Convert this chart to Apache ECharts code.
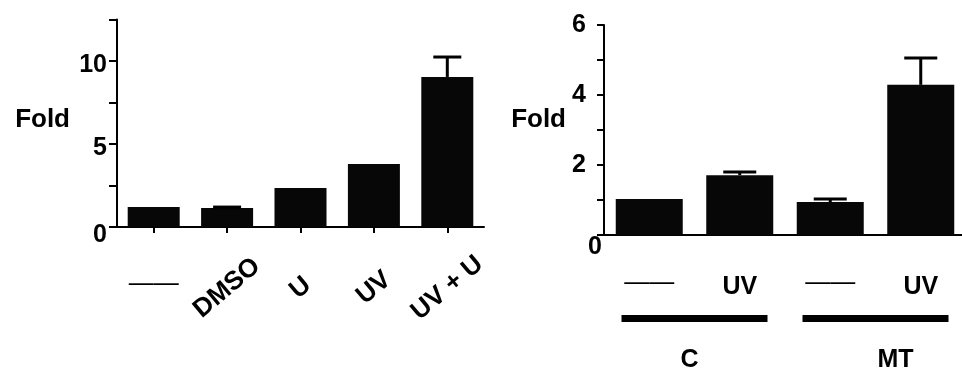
<!DOCTYPE html>
<html>
<head>
<meta charset="utf-8">
<script src="https://cdn.jsdelivr.net/npm/echarts@6/dist/echarts.min.js"></script>
<style>
  html, body { margin: 0; padding: 0; background: #ffffff; }
  #chart { width: 962px; height: 371px; }
</style>
</head>
<body>
<div id="chart"></div>
<script>
// Left panel: fold induction per treatment
const leftCategories = ['—', 'DMSO', 'U', 'UV', 'UV + U'];
const leftFold = [1.2, 1.14, 2.35, 3.8, 9.04];
const leftErrTop = [null, 1.2, null, null, 10.24];
const leftTickLabels = [0, 5, 10];

// Right panel: control (C) and mutant (MT), untreated vs UV
const rightCategories = ['—', 'UV', '—', 'UV'];
const rightFold = [1.03, 1.71, 0.94, 4.29];
const rightErrTop = [null, 1.8, 1.03, 5.06];
const rightGroups = ['C', 'MT'];
const rightTickLabels = [2, 4, 6];

const FONT = '"Liberation Sans", Arial, Helvetica, sans-serif';
const INK = '#000000';
const BAR = '#070707';

// Mean-to-upper-error whisker with a horizontal cap
function errorSeries(xIndex, yIndex, means, tops, capHalf) {
  const data = [];
  means.forEach((m, i) => { if (tops[i] != null) data.push([i, m, tops[i]]); });
  return {
    type: 'custom',
    xAxisIndex: xIndex,
    yAxisIndex: yIndex,
    silent: true,
    z: 3,
    encode: { x: 0, y: [1, 2] },
    data: data,
    renderItem: function (params, api) {
      const lo = api.coord([api.value(0), api.value(1)]);
      const hi = api.coord([api.value(0), api.value(2)]);
      const st = { stroke: INK, lineWidth: 3 };
      return {
        type: 'group',
        children: [
          { type: 'line', shape: { x1: lo[0], y1: lo[1], x2: hi[0], y2: hi[1] }, style: st },
          { type: 'line', shape: { x1: hi[0] - capHalf, y1: hi[1], x2: hi[0] + capHalf, y2: hi[1] }, style: st }
        ]
      };
    }
  };
}

const axisLineStyle = { show: true, lineStyle: { color: INK, width: 2 } };
const tickText = { color: INK, fontFamily: FONT, fontSize: 25, fontWeight: 'bold' };
const boldToken = { fontFamily: FONT, fontSize: 25, fontWeight: 'bold', color: INK };

const option = {
  backgroundColor: '#ffffff',
  animation: false,
  grid: [
    { left: 117, top: 19.5, width: 367, height: 207.5, containLabel: false, outerBoundsMode: 'none' },
    { left: 604, top: 25, width: 362, height: 210, containLabel: false, outerBoundsMode: 'none' }
  ],
  xAxis: [
    {
      // treatment names, slanted
      type: 'category', gridIndex: 0, data: leftCategories,
      axisLine: axisLineStyle,
      axisTick: { show: true, alignWithLabel: true, length: 6, lineStyle: { color: INK, width: 2 } },
      axisLabel: Object.assign({}, tickText, {
        fontSize: 26, interval: 0, rotate: 40, align: 'center', verticalAlign: 'middle', margin: 61,
        formatter: n => (n === '—' ? '' : n)
      })
    },
    {
      // untreated control marker, kept horizontal
      type: 'category', gridIndex: 0, data: leftCategories, position: 'bottom',
      axisLine: { show: false }, axisTick: { show: false },
      axisLabel: Object.assign({}, tickText, {
        interval: 0, fontWeight: 'normal', verticalAlign: 'middle', margin: 57,
        formatter: n => (n === '—' ? n + n : '')
      })
    },
    {
      type: 'category', gridIndex: 1, data: rightCategories,
      axisLine: axisLineStyle,
      axisTick: { show: false },
      axisLabel: Object.assign({}, tickText, {
        interval: 0, verticalAlign: 'middle', margin: 52,
        formatter: n => (n === '—' ? '{d|' + n + n + '}' : n),
        rich: { d: { fontFamily: FONT, fontSize: 25, fontWeight: 'normal', color: INK, padding: [0, 0, 8, 0] } }
      })
    },
    {
      // group brackets with their names underneath
      type: 'category', gridIndex: 1, data: rightGroups, position: 'bottom',
      axisLine: { show: false }, axisTick: { show: false },
      axisLabel: {
        interval: 0, margin: 80, verticalAlign: 'top', align: 'center',
        formatter: n => '{bar|}\n{' + (n === 'C' ? 'c' : 'm') + '|' + n + '}',
        rich: {
          bar: { width: 146, height: 7, backgroundColor: INK },
          c: Object.assign({}, boldToken, { padding: [26, 10, 0, 0] }),
          m: Object.assign({}, boldToken, { padding: [26, 0, 0, 40] })
        }
      }
    }
  ],
  yAxis: [
    {
      type: 'value', gridIndex: 0, position: 'left', min: 0, max: 12.5, interval: 2.5,
      axisLine: axisLineStyle,
      axisTick: { show: true, length: 8, lineStyle: { color: INK, width: 2 } },
      splitLine: { show: false },
      axisLabel: Object.assign({}, tickText, {
        margin: 10,
        formatter: v => (leftTickLabels.indexOf(v) < 0 ? '' : (v === 0 ? '{z|0}' : '{n|' + v + '}')),
        rich: {
          n: Object.assign({}, boldToken, { padding: [8, 0, 0, 0] }),
          z: Object.assign({}, boldToken, { padding: [16, 0, 0, 0] })
        }
      }),
      name: 'Fold', nameLocation: 'middle', nameRotate: 0, nameGap: 47,
      nameTextStyle: { color: INK, fontFamily: FONT, fontSize: 26, fontWeight: 'bold', verticalAlign: 'bottom', lineHeight: 6 }
    },
    {
      type: 'value', gridIndex: 1, position: 'left', min: 0, max: 6, interval: 1,
      axisLine: axisLineStyle,
      axisTick: { show: true, length: 7, lineStyle: { color: INK, width: 2 } },
      splitLine: { show: false },
      axisLabel: Object.assign({}, tickText, {
        margin: 18,
        formatter: v => (rightTickLabels.indexOf(v) >= 0 ? String(v) : '')
      }),
      name: 'Fold', nameLocation: 'middle', nameRotate: 0, nameGap: 38,
      nameTextStyle: { color: INK, fontFamily: FONT, fontSize: 26, fontWeight: 'bold', verticalAlign: 'bottom', lineHeight: 20 }
    },
    {
      // zero label of the right panel sits tucked under the axis corner
      type: 'value', gridIndex: 1, position: 'left', offset: 0, min: 0, max: 6, interval: 1,
      axisLine: { show: false }, axisTick: { show: false }, splitLine: { show: false },
      axisLabel: Object.assign({}, tickText, {
        margin: 2,
        formatter: v => (v === 0 ? '{z|0}' : ''),
        rich: { z: Object.assign({}, boldToken, { padding: [24, 0, 0, 0] }) }
      })
    }
  ],
  series: [
    { type: 'bar', xAxisIndex: 0, yAxisIndex: 0, data: leftFold, barWidth: 52, itemStyle: { color: BAR }, silent: true },
    errorSeries(0, 0, leftFold, leftErrTop, 14),
    { type: 'bar', xAxisIndex: 2, yAxisIndex: 1, data: rightFold, barWidth: 67, itemStyle: { color: BAR }, silent: true },
    errorSeries(2, 1, rightFold, rightErrTop, 16.5)
  ]
};

const chart = echarts.init(document.getElementById('chart'), null, { renderer: 'canvas' });
chart.setOption(option);
</script>
</body>
</html>
